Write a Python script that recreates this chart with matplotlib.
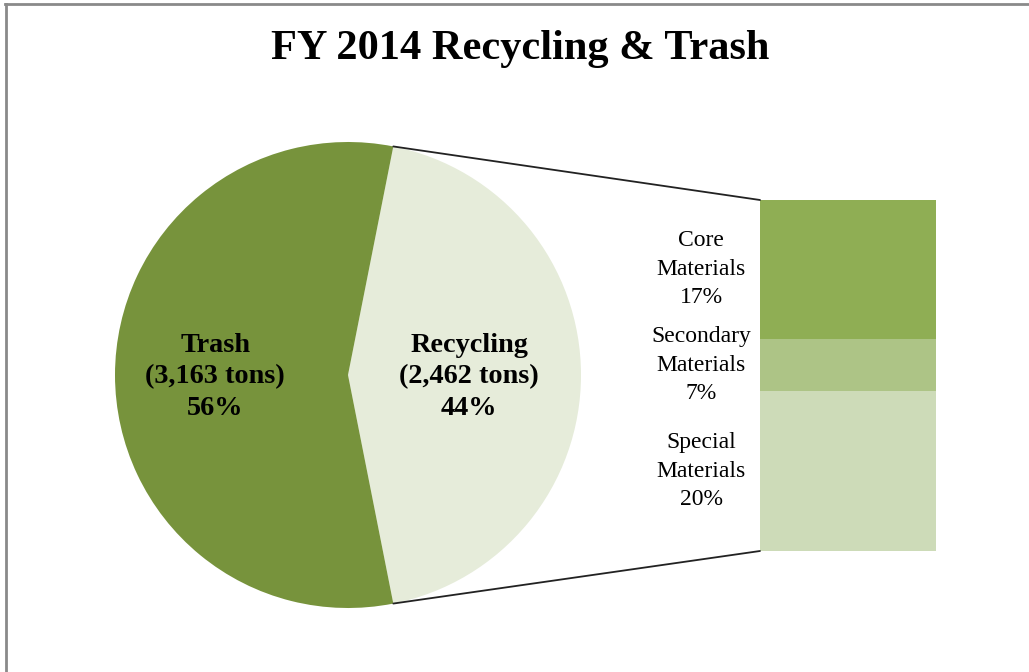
import numpy as np
import matplotlib
matplotlib.use("Agg")
import matplotlib.pyplot as plt
from matplotlib.patches import ConnectionPatch
from matplotlib.lines import Line2D

# ---- data ----
pie_labels = ["Recycling", "Trash"]
pie_tons = [2462, 3163]
pie_colors = ["#E6ECDA", "#77933C"]

sub_labels = ["Core\nMaterials", "Secondary\nMaterials", "Special\nMaterials"]
sub_values = [17.4, 6.6, 20.0]          # share of total (%)
sub_pct_text = ["17%", "7%", "20%"]
sub_colors = ["#8FAE54", "#ADC486", "#CDDBB8"]

title = "FY 2014 Recycling & Trash"

serif = ["Liberation Serif", "DejaVu Serif"]

W, H = 1029, 672
fig = plt.figure(figsize=(W / 100, H / 100), dpi=100)
fig.patch.set_facecolor("white")

# ---- pie ----
ax = fig.add_axes([0, 0, 1, 1])
total = sum(pie_tons)
rec_frac = pie_tons[0] / total
half = rec_frac * 360 / 2
cx, cy, R = 348, 297, 233
wedges, _ = ax.pie(pie_tons, colors=pie_colors, startangle=-half, counterclock=True,
                   center=(cx, cy), radius=R, wedgeprops=dict(linewidth=0))
ax.set_xlim(0, W)
ax.set_ylim(0, H)
ax.set_aspect("equal")
ax.axis("off")

label_rad = [0.52, 0.57]
for w, name, t, f in zip(wedges, pie_labels, pie_tons, label_rad):
    ang = np.deg2rad((w.theta1 + w.theta2) / 2)
    pct = t / total * 100
    ax.text(cx + R * f * np.cos(ang), cy - 2 + R * f * np.sin(ang),
            f"{name}\n({t:,} tons)\n{pct:.0f}%", ha="center", va="center",
            fontsize=20.3, fontweight="bold", family=serif, linespacing=1.36,
            color="black")

# ---- stacked bar ----
bax = fig.add_axes([760 / W, 121 / H, 176 / W, 351 / H])
sub_total = sum(sub_values)
tops = np.cumsum(sub_values[::-1])[::-1]     # top edge of each segment (core on top)
bottoms = tops - np.array(sub_values)
for v, b, c, lab, pt in zip(sub_values, bottoms, sub_colors, sub_labels, sub_pct_text):
    bax.bar(0, v, bottom=b, width=1, color=c, linewidth=0)
    bax.text(-0.835, b + v / 2, f"{lab}\n{pt}", ha="center", va="center",
             fontsize=17, family=serif, linespacing=1.47, clip_on=False)
bax.set_xlim(-0.5, 0.5)
bax.set_ylim(0, sub_total)
bax.axis("off")

# ---- connector lines ----
rw = wedges[0]
for ang_deg, yb in [(rw.theta2, sub_total), (rw.theta1, 0)]:
    a = np.deg2rad(ang_deg)
    p = (cx + R * np.cos(a), cy + R * np.sin(a))
    con = ConnectionPatch(xyA=p, coordsA=ax.transData, xyB=(-0.5, yb), coordsB=bax.transData,
                          color="#222222", linewidth=1.3)
    fig.add_artist(con)

# ---- title ----
fig.text(520 / W, 1 - 59.5 / H, title, ha="center", va="baseline", fontsize=30.5,
         fontweight="bold", family=serif)

# ---- frame (top and left edges visible) ----
fig.add_artist(Line2D([5 / W, 1], [1 - 4 / H, 1 - 4 / H], color="#8a8a8a", linewidth=2))
fig.add_artist(Line2D([5.5 / W, 5.5 / W], [0, 1 - 4 / H], color="#8a8a8a", linewidth=2))

fig.savefig("out.png", dpi=100, facecolor="white")
